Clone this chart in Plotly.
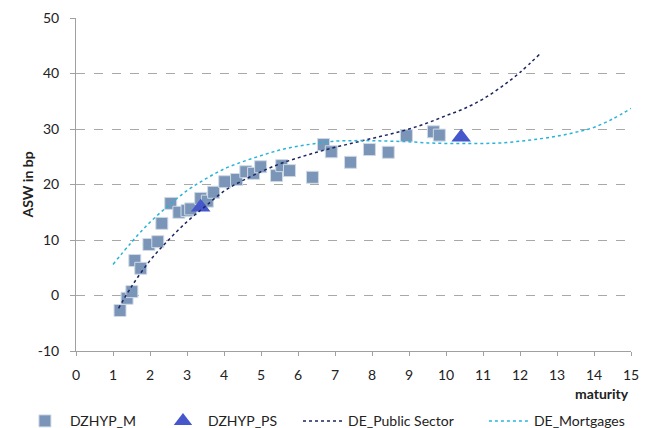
import plotly.graph_objects as go

# DZHYP_M (squares)
m_x = [1.19, 1.38, 1.51, 1.59, 1.75, 1.97, 2.21, 2.32, 2.56, 2.78, 3.0, 3.1, 3.37, 3.55, 3.72, 4.02, 4.34, 4.59, 4.8, 4.99, 5.42, 5.56, 5.77, 6.39, 6.69, 6.9, 7.42, 7.93, 8.44, 8.93, 9.66, 9.82]
m_y = [-2.7, -0.5, 0.7, 6.3, 4.9, 9.2, 9.7, 13.0, 16.6, 15.0, 15.3, 15.6, 17.5, 17.0, 18.6, 20.5, 20.9, 22.3, 22.0, 23.2, 21.6, 23.4, 22.5, 21.3, 27.2, 25.9, 24.0, 26.3, 25.8, 28.8, 29.5, 28.9]

# DZHYP_PS (triangles)
ps_x = [3.37, 10.41]
ps_y = [15.9, 28.5]

# DE_Public Sector curve
pub_x = [1.15, 1.5, 2, 2.5, 3, 3.5, 4, 4.5, 5, 5.5, 6, 6.5, 7, 7.5, 8, 8.5, 9, 9.5, 10, 10.5, 11, 11.5, 12, 12.55]
pub_y = [-2.3, 1.6, 6.3, 10.0, 13.3, 16.1, 18.8, 20.7, 22.3, 23.7, 24.8, 25.8, 26.7, 27.5, 28.3, 29.1, 30.0, 31.1, 32.4, 33.7, 35.4, 37.6, 40.2, 43.6]

# DE_Mortgages curve
mort_x = [1, 1.5, 2, 2.5, 3, 3.5, 4, 4.5, 5, 5.5, 6, 6.5, 7, 7.5, 8, 8.5, 9, 9.5, 10, 10.5, 11, 11.5, 12, 12.5, 13, 13.5, 14, 14.5, 15]
mort_y = [5.6, 9.6, 13.2, 16.2, 18.9, 21.0, 22.8, 24.1, 25.2, 26.2, 26.9, 27.4, 27.8, 27.9, 27.9, 27.8, 27.7, 27.5, 27.4, 27.4, 27.4, 27.5, 27.8, 28.2, 28.7, 29.4, 30.3, 31.8, 33.7]

x_ticks = list(range(0, 16))
y_ticks = [-10, 0, 10, 20, 30, 40, 50]

FONT = "Lato, 'Open Sans', sans-serif"
TXT = "#222222"

fig = go.Figure()
fig.add_trace(go.Scatter(x=m_x, y=m_y, mode="markers", name="DZHYP_M", legend="legend",
                         marker=dict(symbol="square", size=12, color="#7a95b7",
                                     line=dict(color="#d0dae6", width=1))))
fig.add_trace(go.Scatter(x=ps_x, y=ps_y, mode="markers", name="DZHYP_PS", legend="legend2",
                         marker=dict(symbol="triangle-up", size=17, color="#4657cc",
                                     line=dict(width=0))))
fig.add_trace(go.Scatter(x=pub_x, y=pub_y, mode="lines", name="DE_Public Sector", legend="legend3",
                         line=dict(color="#1c2660", width=1.5, dash="dot", shape="spline")))
fig.add_trace(go.Scatter(x=mort_x, y=mort_y, mode="lines", name="DE_Mortgages", legend="legend4",
                         line=dict(color="#27b4da", width=1.5, dash="dot", shape="spline")))

def leg(xpos):
    return dict(orientation="h", x=xpos, y=-0.163, xanchor="left", yanchor="top",
                font=dict(size=14, color=TXT), itemwidth=40,
                bgcolor="rgba(0,0,0,0)")

fig.update_layout(
    width=657, height=428,
    margin=dict(l=76, r=26, t=18, b=77, autoexpand=False),
    paper_bgcolor="white", plot_bgcolor="white",
    font=dict(family=FONT, size=14, color=TXT),
    showlegend=True,
    legend=leg(-0.101), legend2=leg(0.1477), legend3=leg(0.400), legend4=leg(0.735),
    xaxis=dict(range=[0, 15], tickvals=x_ticks, ticktext=[str(v) for v in x_ticks],
               showgrid=False, zeroline=False, showline=True, linecolor="#a0a0a0",
               linewidth=1, ticks="outside", ticklen=4, tickcolor="#a0a0a0",
               ticklabelstandoff=7),
    yaxis=dict(range=[-10, 50], tickvals=y_ticks, ticktext=[str(v) for v in y_ticks],
               showgrid=True, gridcolor="#a8a8a8", griddash="dash", gridwidth=1,
               zeroline=False, showline=True, linecolor="#a0a0a0", linewidth=1,
               ticks="outside", ticklen=5, tickcolor="#a0a0a0", ticklabelstandoff=8),
    annotations=[
        dict(text="<b>maturity</b>", xref="paper", yref="paper", x=1.0, y=-0.095,
             xanchor="right", yanchor="top", showarrow=False, font=dict(size=14, color=TXT)),
        dict(text="<b>ASW in bp</b>", xref="paper", yref="paper", x=-0.0865, y=0.5,
             xanchor="center", yanchor="middle", textangle=-90, showarrow=False,
             font=dict(size=14, color=TXT)),
    ],
)

fig.write_html("out.html", config={"displayModeBar": False},
               post_script="document.body.style.margin='0';")
